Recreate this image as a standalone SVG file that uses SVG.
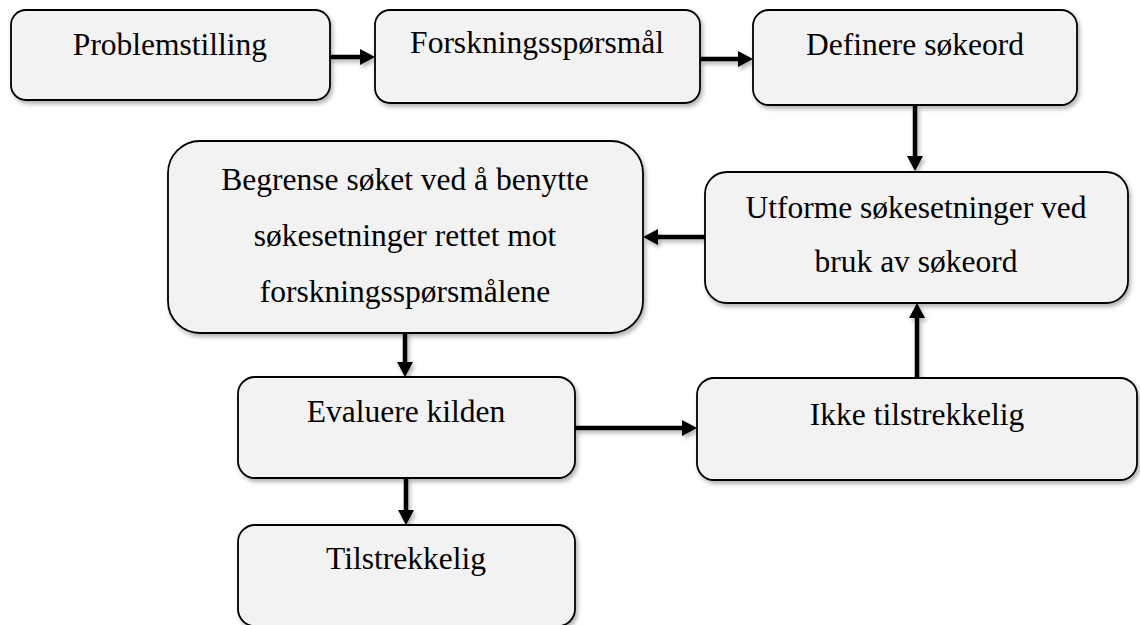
<svg xmlns="http://www.w3.org/2000/svg" width="1140" height="625" viewBox="0 0 1140 625">
<defs>
<filter id="sh" x="-10%" y="-10%" width="120%" height="130%">
<feDropShadow dx="2" dy="3" stdDeviation="2" flood-color="#000" flood-opacity="0.3"/>
</filter>
<filter id="shl" filterUnits="userSpaceOnUse" x="0" y="0" width="1140" height="625">
<feDropShadow dx="2" dy="3" stdDeviation="2" flood-color="#000" flood-opacity="0.3"/>
</filter>
<marker id="ah" markerUnits="userSpaceOnUse" markerWidth="16" markerHeight="16" refX="0" refY="8" orient="auto" overflow="visible">
<path d="M0,0 L15,8 L0,16 z" fill="#000"/>
</marker>
</defs>
<style>
.box{fill:#f2f2f2;stroke:#000;stroke-width:1.8;filter:url(#sh)}
.t{font-family:"Liberation Serif","Times New Roman",serif;font-size:31.5px;fill:#000;text-anchor:middle}
.c{stroke:#000;stroke-width:4.5;fill:none;marker-end:url(#ah)}
</style>
<g id="connectors" filter="url(#shl)">
<line class="c" x1="330" y1="57" x2="360" y2="57"/>
<line class="c" x1="700" y1="59" x2="738" y2="59"/>
<line class="c" x1="915" y1="106" x2="915" y2="156"/>
<line class="c" x1="705" y1="237" x2="658" y2="237"/>
<line class="c" x1="405" y1="333" x2="405" y2="362"/>
<line class="c" x1="575" y1="428" x2="682" y2="428"/>
<line class="c" x1="917" y1="378" x2="917" y2="318"/>
<line class="c" x1="406" y1="478" x2="406" y2="510"/>
</g>
<g id="n1"><rect class="box" x="11" y="10" width="319" height="90" rx="15"/><text class="t" x="170" y="55">Problemstilling</text></g>
<g id="n2"><rect class="box" x="375" y="10" width="325" height="93" rx="15"/><text class="t" x="537" y="53">Forskningsspørsmål</text></g>
<g id="n3"><rect class="box" x="753" y="10" width="324" height="95" rx="16"/><text class="t" x="915" y="55">Definere søkeord</text></g>
<g id="n4"><rect class="box" x="705" y="172" width="423" height="131" rx="22"/><text class="t" x="916" y="218">Utforme søkesetninger ved</text><text class="t" x="916" y="272">bruk av søkeord</text></g>
<g id="n5"><rect class="box" x="168" y="141" width="475" height="192" rx="32"/><text class="t" x="405" y="190">Begrense søket ved å benytte</text><text class="t" x="405" y="246">søkesetninger rettet mot</text><text class="t" x="405" y="302">forskningsspørsmålene</text></g>
<g id="n6"><rect class="box" x="238" y="377" width="337" height="101" rx="17"/><text class="t" x="406" y="422">Evaluere kilden</text></g>
<g id="n7"><rect class="box" x="697" y="378" width="440" height="102" rx="17"/><text class="t" x="917" y="425">Ikke tilstrekkelig</text></g>
<g id="n8"><rect class="box" x="238" y="525" width="337" height="101" rx="17"/><text class="t" x="406" y="569">Tilstrekkelig</text></g>
</svg>
